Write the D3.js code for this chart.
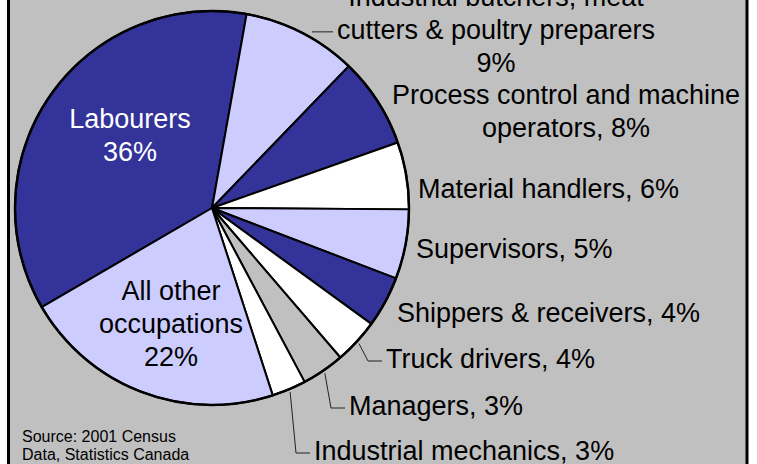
<!DOCTYPE html>
<html>
<head>
<meta charset="utf-8">
<script src="https://cdn.jsdelivr.net/npm/d3@7"></script>
<style>
  html, body { margin: 0; padding: 0; background: #fff; }
  #chart { width: 757px; height: 464px; }
  svg text { font-family: "Liberation Sans", Arial, sans-serif; }
</style>
</head>
<body>
<div id="chart"></div>
<script>
// Occupations, clockwise from the Labourers slice
const occupations = [
  "Labourers",
  "Industrial butchers, meat cutters & poultry preparers",
  "Process control and machine operators",
  "Material handlers",
  "Supervisors",
  "Shippers & receivers",
  "Truck drivers",
  "Managers",
  "Industrial mechanics",
  "All other occupations"
];
// Shares (%)
const shares = [36.2, 9.4, 7.4, 5.5, 5.7, 4.2, 3.7, 3.5, 2.8, 21.6];
// Percent labels as printed on the chart
const pctLabels = ["36%", "9%", "8%", "6%", "5%", "4%", "4%", "3%", "3%", "22%"];
// Label lines as printed
const labelLines = [
  ["Labourers", "36%"],
  ["Industrial butchers, meat", "cutters & poultry preparers", "9%"],
  ["Process control and machine", "operators, 8%"],
  ["Material handlers, 6%"],
  ["Supervisors, 5%"],
  ["Shippers & receivers, 4%"],
  ["Truck drivers, 4%"],
  ["Managers, 3%"],
  ["Industrial mechanics, 3%"],
  ["All other", "occupations", "22%"]
];
const sourceNote = ["Source: 2001 Census", "Data, Statistics Canada"];

function drawPie(divId) {
  const width = 757, height = 464;
  const cx = 212, cy = 208, radius = 197;
  const fontSize = 27, lineH = 33;

  const colors = ["#333399", "#CCCCFF", "#333399", "#FFFFFF", "#CCCCFF",
                  "#333399", "#FFFFFF", "#C0C0C0", "#FFFFFF", "#CCCCFF"];

  // label layout: anchor x, first baseline, alignment, leader line?
  const layout = [
    { x: 130, y: 128, anchor: "middle", color: "#fff" },
    { x: 496, y: 6, anchor: "middle", leader: "flat", lx: 333 },
    { x: 566, y: 104, anchor: "middle" },
    { x: 418, y: 198, anchor: "start" },
    { x: 416, y: 258, anchor: "start" },
    { x: 397, y: 322, anchor: "start" },
    { x: 386, y: 368, anchor: "start", leader: "elbow" },
    { x: 349, y: 415, anchor: "start", leader: "elbow" },
    { x: 314, y: 460, anchor: "start", leader: "elbow" },
    { x: 171, y: 300, anchor: "middle" }
  ];

  const svg = d3.select(`#${divId}`)
    .append("svg")
    .attr("width", width)
    .attr("height", height);

  // grey plot frame (top and bottom run off the picture)
  svg.append("rect")
    .attr("x", 8.5)
    .attr("y", -10)
    .attr("width", 738.5)
    .attr("height", height + 20)
    .attr("fill", "#C0C0C0")
    .attr("stroke", "#000")
    .attr("stroke-width", 3);

  const data = occupations.map((name, i) => ({ name, value: shares[i], pct: pctLabels[i], i }));

  const startDeg = -120.2;
  const pie = d3.pie()
    .sort(null)
    .value(d => d.value)
    .startAngle(startDeg * Math.PI / 180)
    .endAngle(startDeg * Math.PI / 180 + 2 * Math.PI);

  const arcs = pie(data);
  const arc = d3.arc().innerRadius(0).outerRadius(radius);

  const g = svg.append("g").attr("transform", `translate(${cx},${cy})`);

  g.selectAll("path.slice")
    .data(arcs)
    .join("path")
    .attr("class", "slice")
    .attr("d", arc)
    .attr("fill", (d, i) => colors[i])
    .attr("stroke", "#000")
    .attr("stroke-width", 2)
    .attr("stroke-linejoin", "round");

  // outer rim a bit heavier
  g.append("circle")
    .attr("r", radius)
    .attr("fill", "none")
    .attr("stroke", "#000")
    .attr("stroke-width", 2.5);

  // leader lines
  arcs.forEach((d, i) => {
    const L = layout[i];
    if (!L.leader) return;
    const mid = (d.startAngle + d.endAngle) / 2;
    const r0 = radius + 3;
    const sx = cx + r0 * Math.sin(mid);
    const sy = cy - r0 * Math.cos(mid);
    let pts;
    if (L.leader === "flat") {
      pts = [[sx + 9, sy + 2], [L.lx, sy + 2]];
    } else {
      const ey = L.y - 7;
      pts = [[sx, sy], [L.x - 18, ey], [L.x - 4, ey]];
    }
    svg.append("path")
      .attr("d", d3.line()(pts))
      .attr("fill", "none")
      .attr("stroke", "#222")
      .attr("stroke-width", 1);
  });

  // labels
  arcs.forEach((d, i) => {
    const L = layout[i];
    const t = svg.append("text")
      .attr("text-anchor", L.anchor)
      .attr("font-size", fontSize)
      .attr("fill", L.color || "#000");
    labelLines[i].forEach((line, k) => {
      t.append("tspan")
        .attr("x", L.x)
        .attr("y", L.y + k * lineH)
        .text(line);
    });
  });

  // source note
  const src = svg.append("text").attr("font-size", 16).attr("fill", "#000");
  sourceNote.forEach((line, k) => {
    src.append("tspan").attr("x", 22).attr("y", 442 + k * 18).text(line);
  });
}

drawPie("chart");
</script>
</body>
</html>
